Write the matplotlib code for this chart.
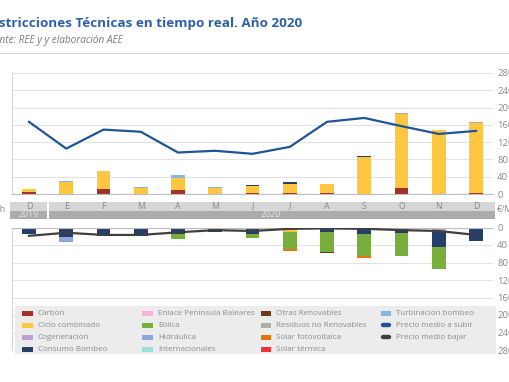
import matplotlib
matplotlib.use("Agg")
import matplotlib.pyplot as plt
from matplotlib.patches import Rectangle
from matplotlib.lines import Line2D

plt.rcParams['font.family'] = ['Open Sans', 'DejaVu Sans']

W, H = 510, 382

months = ['D', 'E', 'F', 'M', 'A', 'M', 'J', 'J', 'A', 'S', 'O', 'N', 'D']

# restricciones a subir (GWh)
carbon_sub = [4, 0, 12, 0, 9, 0, 3, 3, 3, 1, 14, 0, 3]
ciclo_sub = [8, 28, 41, 15, 28, 15, 15, 20, 19, 85, 172, 147, 162]
turbinacion_sub = [0, 2, 0, 1, 7, 2, 0, 0, 0, 0, 0, 0, 0]
consumo_sub = [0, 0, 0, 0, 0, 0, 2, 5, 0, 3, 0, 0, 0]
residuos_sub = [0, 0, 0, 0, 0, 0, 0, 0, 0, 0, 2, 2, 2]
precio_subir = [167, 105, 149, 144, 96, 100, 93, 109, 167, 176, 157, 139, 146]

# restricciones a bajar (GWh)
cogen_baj = [0, 0, 0, 0, 0, 0, 0, 0, 0, 0, 0, 8, 0]
ciclo_baj = [0, 0, 0, 0, 0, 0, 0, 11, 4, 4, 4, 0, 0]
consumo_baj = [14, 21, 19, 19, 15, 11, 15, 0, 6, 11, 8, 37, 31]
hidraulica_baj = [0, 12, 0, 0, 0, 0, 0, 0, 0, 0, 0, 0, 0]
eolica_baj = [0, 0, 0, 0, 11, 0, 10, 37, 46, 50, 52, 50, 0]
solarfv_baj = [0, 0, 0, 0, 0, 0, 0, 5, 0, 5, 0, 0, 0]
otras_baj = [0, 0, 0, 0, 0, 0, 0, 0, 2, 0, 2, 0, 0]
precio_bajar = [19, 12, 17, 17, 11, 6, 8, 3, 2, 3, 6, 8, 17]

colors = {
    'Carbón': '#a3302b',
    'Ciclo combinado': '#ffc63f',
    'Cogeneración': '#b9a3d3',
    'Consumo Bombeo': '#243f6c',
    'Enlace Península Baleares': '#f5b5d3',
    'Eólica': '#78ae3c',
    'Hidráulica': '#8ea6d9',
    'Internacionales': '#9fdfda',
    'Otras Renovables': '#6d3a1c',
    'Residuos no Renovables': '#b2aca7',
    'Solar fotovoltaica': '#e8730e',
    'Solar térmica': '#e8343a',
    'Turbinación bombeo': '#87b5e2',
}
c_subir = '#1f5594'
c_bajar = '#3f3f3f'
grid_c = '#e3e3e3'
tick_c = '#8a8a8a'


def px(x0, y0, x1, y1):
    # pixel box (top-left origin) -> figure fraction rect
    return [x0 / W, 1 - y1 / H, (x1 - x0) / W, (y1 - y0) / H]


fig = plt.figure(figsize=(W / 100, H / 100), dpi=100)

# header (cut at the left edge as in the source picture)
fig.text(-18 / W, 1 - 23 / H, 'Restricciones Técnicas en tiempo real. Año 2020',
         fontsize=9.7, fontweight='bold', color='#2f61aa', va='center', ha='left')
fig.text(-16 / W, 1 - 41 / H, 'Fuente: REE y y elaboración AEE',
         fontsize=7.2, style='italic', color='#7a7a7a', va='center', ha='left')
fig.add_artist(Line2D([0, 1], [1 - 53 / H] * 2, color='#d4d4d4', lw=0.8))

x = list(range(len(months)))
xlim = (-0.456, 12.456)
bw = 0.37

# top panel: a subir
ax = fig.add_axes(px(12, 73, 493, 194))
bottom = [0] * len(months)
for name, vals in [('Carbón', carbon_sub), ('Ciclo combinado', ciclo_sub),
                   ('Turbinación bombeo', turbinacion_sub),
                   ('Residuos no Renovables', residuos_sub),
                   ('Consumo Bombeo', consumo_sub)]:
    ax.bar(x, vals, bw, bottom=bottom, color=colors[name], zorder=2)
    bottom = [b + v for b, v in zip(bottom, vals)]
ax.plot(x, precio_subir, color=c_subir, lw=1.6, zorder=3)
ax.set_xlim(*xlim)
ax.set_ylim(0, 280)
ax.set_yticks(range(0, 281, 40))
ax.yaxis.tick_right()
ax.tick_params(axis='y', length=0, pad=3, labelsize=6.8, labelcolor=tick_c)
ax.set_xticks([])
ax.grid(axis='y', color=grid_c, lw=0.8, zorder=0)
for s in ['top', 'right']:
    ax.spines[s].set_visible(False)
ax.spines['left'].set_color('#d6d6d6')
ax.spines['bottom'].set_color('#bdbdbd')

# month band
axb = fig.add_axes(px(12, 201.7, 493, 219.3))
axb.set_xlim(*xlim)
axb.set_ylim(0, 2)
axb.set_axis_off()
axb.add_patch(Rectangle((-0.51, 1), 13.02, 1, color='#d6d6d6', clip_on=False, lw=0))
axb.add_patch(Rectangle((-0.51, 0), 13.02, 1, color='#ababab', clip_on=False, lw=0))
axb.add_patch(Rectangle((0.48, 0), 0.05, 2, color='white', clip_on=False, lw=0))
for i, m in enumerate(months):
    axb.text(i, 1.5, m, ha='center', va='center', fontsize=6.3, color='#8a8a8a')
axb.text(0, 0.5, '2019', ha='center', va='center', fontsize=6.3, color='#e6e6e6')
axb.text(6.5, 0.5, '2020', ha='center', va='center', fontsize=6.3, color='#e6e6e6')
fig.text(6 / W, 1 - 209 / H, 'GWh', fontsize=6.5, color=tick_c, ha='right', va='center')
fig.text(497 / W, 1 - 209 / H, '€/MWh', fontsize=6.5, color=tick_c, ha='left', va='center')

# bottom panel: a bajar
ax2 = fig.add_axes(px(12, 227.5, 493, 350))
bottom = [0] * len(months)
for name, vals in [('Cogeneración', cogen_baj), ('Ciclo combinado', ciclo_baj),
                   ('Consumo Bombeo', consumo_baj), ('Hidráulica', hidraulica_baj),
                   ('Eólica', eolica_baj), ('Solar fotovoltaica', solarfv_baj),
                   ('Otras Renovables', otras_baj)]:
    ax2.bar(x, vals, bw, bottom=bottom, color=colors[name], zorder=2)
    bottom = [b + v for b, v in zip(bottom, vals)]
ax2.plot(x, precio_bajar, color=c_bajar, lw=1.6, zorder=3)
ax2.set_xlim(*xlim)
ax2.set_ylim(280, 0)
ax2.set_yticks(range(0, 281, 40))
ax2.yaxis.tick_right()
ax2.tick_params(axis='y', length=0, pad=3, labelsize=6.8, labelcolor=tick_c)
ax2.set_xticks([])
ax2.grid(axis='y', color=grid_c, lw=0.8, zorder=0)
for s in ['bottom', 'right']:
    ax2.spines[s].set_visible(False)
ax2.spines['left'].set_color('#d6d6d6')
ax2.spines['top'].set_color('#bdbdbd')

# legend
axl = fig.add_axes(px(15, 306, 496, 354))
axl.set_facecolor('#ececec')
axl.set_xlim(15, 496)
axl.set_ylim(354, 306)
axl.set_xticks([])
axl.set_yticks([])
for s in axl.spines.values():
    s.set_visible(False)
entries = list(colors.keys()) + ['Precio medio a subir', 'Precio medio bajar']
col_x = [22.3, 142.3, 261, 380.7]
row_y = [313.3, 325.3, 337.3, 349.3]
for k, name in enumerate(entries):
    cx, ry = col_x[k // 4], row_y[k % 4]
    if name in colors:
        axl.add_patch(Rectangle((cx, ry - 2.7), 10.4, 5.4, color=colors[name], lw=0))
    else:
        lc = c_subir if name == 'Precio medio a subir' else c_bajar
        axl.plot([cx + 2, cx + 8.4], [ry, ry], color=lc, lw=3.2, solid_capstyle='round')
    axl.text(cx + 15.5, ry, name, fontsize=5.8, color='#8c8c8c', va='center', ha='left')

fig.savefig('out.png', dpi=100)
